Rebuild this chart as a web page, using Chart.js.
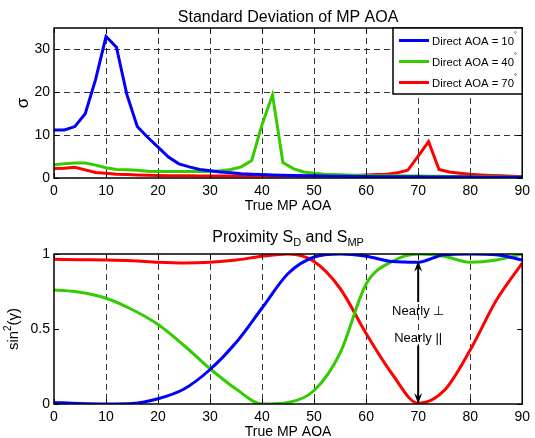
<!DOCTYPE html>
<html>
<head>
<meta charset="utf-8">
<script src="https://cdn.jsdelivr.net/npm/chart.js@4.4.1/dist/chart.umd.min.js"></script>
<style>
  html, body { margin: 0; padding: 0; background: #fff; }
  #wrap { position: relative; width: 535px; height: 438px; }
  canvas { position: absolute; left: 0; }
  #top { top: 0; }
  #bottom { top: 219px; }
</style>
</head>
<body>
<div id="wrap">
  <canvas id="top" width="535" height="219"></canvas>
  <canvas id="bottom" width="535" height="219"></canvas>
</div>
<script>
// ---- data ----
var directAoa = [10, 40, 70];
var seriesColors = ['#0000ff', '#33cc00', '#ff0000'];

// top panel: std dev of MP AOA, sampled every 2 degrees
var sdX = [0, 2, 4, 6, 8, 10, 12, 14, 16, 18, 20, 22, 24, 26, 28, 30, 32, 34, 36, 38, 40, 42, 44,
           46, 48, 50, 52, 54, 56, 58, 60, 62, 64, 66, 68, 70, 72, 74, 76, 78, 80, 82, 84, 86, 88, 90];
var sd10 = [11.2, 11.2, 12, 15, 23, 33, 30.5, 19.5, 12, 9.5, 7.2, 4.9, 3.3, 2.6, 2.0, 1.7, 1.4, 1.2, 1.0, 0.9, 0.8, 0.7, 0.65,
            0.6, 0.55, 0.5, 0.45, 0.4, 0.4, 0.35, 0.35, 0.3, 0.3, 0.3, 0.3, 0.3, 0.25, 0.25, 0.25, 0.25, 0.25, 0.2, 0.2, 0.2, 0.2, 0.2];
var sd40 = [3.1, 3.3, 3.5, 3.5, 3.0, 2.4, 2.0, 1.9, 1.8, 1.6, 1.5, 1.5, 1.5, 1.5, 1.5, 1.5, 1.7, 2.0, 2.6, 4.1, 12.5, 19.4, 3.6,
            2.2, 1.4, 1.1, 0.9, 0.8, 0.7, 0.65, 0.6, 0.55, 0.5, 0.5, 0.45, 0.45, 0.4, 0.4, 0.35, 0.35, 0.3, 0.3, 0.3, 0.25, 0.25, 0.2];
var sd70 = [2.2, 2.3, 2.5, 1.9, 1.3, 1.1, 0.9, 0.8, 0.7, 0.65, 0.6, 0.55, 0.5, 0.5, 0.45, 0.45, 0.45, 0.45, 0.45, 0.45, 0.45, 0.45, 0.45,
            0.45, 0.45, 0.45, 0.5, 0.5, 0.55, 0.6, 0.7, 0.8, 0.9, 1.2, 1.8, 5.1, 8.5, 2.0, 1.4, 1.1, 0.85, 0.7, 0.6, 0.5, 0.4, 0.3];

// bottom panel: sin^2(gamma), sampled every 5 degrees
var proxX = [0, 5, 10, 15, 20, 25, 30, 35, 40, 45, 50, 55, 60, 65, 70, 75, 80, 85, 90];
var prox10 = [0.01, 0.003, 0.0, 0.003, 0.035, 0.1, 0.23, 0.41, 0.64, 0.87, 0.98, 1.0, 0.985, 0.95, 0.945, 0.995, 1.0, 0.995, 0.96];
var prox40 = [0.76, 0.745, 0.705, 0.63, 0.53, 0.39, 0.235, 0.1, 0.0, 0.01, 0.09, 0.34, 0.8, 0.95, 1.0, 0.985, 0.945, 0.96, 1.0];
var prox70 = [0.965, 0.962, 0.96, 0.955, 0.945, 0.94, 0.945, 0.96, 0.985, 1.0, 0.95, 0.77, 0.47, 0.2, 0.005, 0.09, 0.36, 0.69, 0.94];

var xTicks = [0, 10, 20, 30, 40, 50, 60, 70, 80, 90];
var sdTicks = [0, 10, 20, 30];
var proxTicks = [0, 0.5, 1];

var FONT = '"Liberation Sans", Arial, Helvetica, sans-serif';

function pts(xs, ys) {
    return xs.map(function (x, i) { return { x: x, y: ys[i] }; });
}

function makeDatasets(xs, lists, smooth) {
    return lists.map(function (ys, i) {
        return {
            label: 'Direct AOA = ' + directAoa[i] + '°',
            data: pts(xs, ys),
            borderColor: seriesColors[i],
            borderWidth: 3,
            pointRadius: 0,
            fill: false,
            tension: smooth ? 0.4 : 0,
            cubicInterpolationMode: smooth ? 'monotone' : 'default'
        };
    });
}

function setTicks(values) {
    return function (scale) {
        scale.ticks = values.map(function (v) { return { value: v }; });
    };
}

function gridColor(edges) {
    return function (ctx) {
        if (!ctx.tick) return 'rgba(0,0,0,0)';
        return edges.indexOf(ctx.tick.value) >= 0 ? 'rgba(0,0,0,0)' : '#333';
    };
}

// black box + inward tick marks, drawn like a MATLAB axes
var boxPlugin = {
    id: 'box',
    afterDraw: function (chart) {
        var c = chart.ctx, a = chart.chartArea;
        var sx = chart.scales.x, sy = chart.scales.y;
        c.save();
        c.strokeStyle = '#000';
        c.lineWidth = 1;
        c.beginPath();
        sx.ticks.forEach(function (t) {
            var px = Math.round(sx.getPixelForValue(t.value)) + 0.5;
            c.moveTo(px, a.bottom); c.lineTo(px, a.bottom - 5);
            c.moveTo(px, a.top); c.lineTo(px, a.top + 5);
        });
        sy.ticks.forEach(function (t) {
            var py = Math.round(sy.getPixelForValue(t.value)) + 0.5;
            c.moveTo(a.left, py); c.lineTo(a.left + 5, py);
            c.moveTo(a.right, py); c.lineTo(a.right - 5, py);
        });
        c.stroke();
        c.lineWidth = 1.5;
        c.strokeRect(a.left, a.top, a.right - a.left, a.bottom - a.top);
        c.restore();
    }
};

// pieces of text: [string, dy, size]
function drawRich(c, parts, x, y, align) {
    var total = 0;
    parts.forEach(function (p) {
        c.font = p[2] + 'px ' + FONT;
        total += c.measureText(p[0]).width;
    });
    var cx = align === 'center' ? x - total / 2 : x;
    c.textAlign = 'left';
    c.textBaseline = 'middle';
    parts.forEach(function (p) {
        c.font = p[2] + 'px ' + FONT;
        c.fillText(p[0], cx, y + p[1]);
        cx += c.measureText(p[0]).width;
    });
}

var labelsPlugin = {
    id: 'labels',
    afterDraw: function (chart, args, opts) {
        var c = chart.ctx, a = chart.chartArea;
        var mid = (a.left + a.right) / 2;
        c.save();
        c.fillStyle = '#000';
        drawRich(c, opts.title, mid, opts.titleY, 'center');
        drawRich(c, [['True MP AOA', 0, 14]], mid, opts.xTitleY, 'center');
        c.translate(opts.yTitleX, (a.top + a.bottom) / 2);
        c.rotate(-Math.PI / 2);
        drawRich(c, opts.yTitle, 0, 0, 'center');
        c.restore();
    }
};

var legendPlugin = {
    id: 'boxLegend',
    afterDraw: function (chart, args, opts) {
        if (!opts.show) return;
        var c = chart.ctx, a = chart.chartArea;
        var left = 393, top = a.top, w = a.right - left, h = 66;
        c.save();
        c.fillStyle = '#fff';
        c.fillRect(left, top, w, h);
        c.strokeStyle = '#000';
        c.lineWidth = 1.5;
        c.strokeRect(left, top, w, h);
        chart.data.datasets.forEach(function (ds, i) {
            var y = top + 12.5 + i * 21;
            c.strokeStyle = ds.borderColor;
            c.lineWidth = 3;
            c.beginPath();
            c.moveTo(399, y); c.lineTo(429, y);
            c.stroke();
            c.fillStyle = '#000';
            var txt = ds.label.slice(0, -1);
            drawRich(c, [[txt, 1, 11.3], ['°', -5, 7]], 432, y, 'left');
        });
        c.restore();
    }
};

var arrowPlugin = {
    id: 'arrows',
    afterDraw: function (chart, args, opts) {
        if (!opts.show) return;
        var c = chart.ctx, sx = chart.scales.x, sy = chart.scales.y;
        var px = sx.getPixelForValue(70);
        function arrow(y0, y1) {
            var p0 = sy.getPixelForValue(y0), p1 = sy.getPixelForValue(y1);
            var dir = p1 > p0 ? 1 : -1;
            c.strokeStyle = '#000';
            c.fillStyle = '#000';
            c.lineWidth = 2;
            c.beginPath();
            c.moveTo(px, p0); c.lineTo(px, p1 - dir * 6);
            c.stroke();
            c.beginPath();
            c.moveTo(px, p1);
            c.lineTo(px - 4, p1 - dir * 11);
            c.lineTo(px, p1 - dir * 7);
            c.lineTo(px + 4, p1 - dir * 11);
            c.closePath();
            c.fill();
        }
        c.save();
        arrow(0.68, 0.955);
        arrow(0.39, 0.0);
        c.fillStyle = '#000';
        drawRich(c, [['Nearly ⊥', 0, 13]], px, sy.getPixelForValue(0.62), 'center');
        drawRich(c, [['Nearly ||', 0, 13]], px, sy.getPixelForValue(0.44), 'center');
        c.restore();
    }
};

function buildOptions(cfg) {
    return {
        responsive: false,
        animation: false,
        layout: { padding: { top: cfg.padTop, right: 8, left: 0, bottom: 0 } },
        plugins: {
            legend: { display: false },
            tooltip: { enabled: false },
            labels: cfg.labels,
            boxLegend: { show: cfg.legend },
            arrows: { show: cfg.arrows }
        },
        scales: {
            x: {
                type: 'linear',
                min: 0, max: 90,
                afterBuildTicks: setTicks(xTicks),
                afterFit: function (s) { s.height = cfg.xHeight; },
                grid: { color: gridColor([0, 90]), drawTicks: false, lineWidth: 1 },
                border: { display: false, dash: [6, 4] },
                ticks: { color: '#000', font: { family: FONT, size: 14 }, padding: cfg.xPad, maxRotation: 0 }
            },
            y: {
                min: cfg.yMin, max: cfg.yMax,
                afterBuildTicks: setTicks(cfg.yTicks),
                afterFit: function (s) { s.width = 54; },
                grid: { display: cfg.yGrid, color: gridColor([0]), drawTicks: false, lineWidth: 1 },
                border: { display: false, dash: [6, 4] },
                ticks: {
                    color: '#000', font: { family: FONT, size: 14 }, padding: 4,
                    callback: function (v) { return String(v); }
                }
            }
        }
    };
}

new Chart(document.getElementById('top'), {
    type: 'line',
    data: { datasets: makeDatasets(sdX, [sd10, sd40, sd70], false) },
    options: buildOptions({
        padTop: 28, xHeight: 41, xPad: 5, yMin: 0, yMax: 35, yTicks: sdTicks, yGrid: true,
        legend: true, arrows: false,
        labels: {
            title: [['Standard Deviation of MP AOA', 0, 16]], titleY: 18,
            xTitleY: 206, yTitleX: 23, yTitle: [['σ', 0, 17]]
        }
    }),
    plugins: [boxPlugin, labelsPlugin, legendPlugin, arrowPlugin]
});

new Chart(document.getElementById('bottom'), {
    type: 'line',
    data: { datasets: makeDatasets(proxX, [prox10, prox40, prox70], true) },
    options: buildOptions({
        padTop: 35, xHeight: 34, xPad: 5, yMin: 0, yMax: 1, yTicks: proxTicks, yGrid: false,
        legend: false, arrows: true,
        labels: {
            title: [['Proximity S', 0, 16], ['D', 5, 11], [' and S', 0, 16], ['MP', 5, 11]], titleY: 19,
            xTitleY: 213, yTitleX: 14,
            yTitle: [['sin', 0, 15], ['2', -6, 10], ['(γ)', 0, 15]]
        }
    }),
    plugins: [boxPlugin, labelsPlugin, legendPlugin, arrowPlugin]
});
</script>
</body>
</html>
